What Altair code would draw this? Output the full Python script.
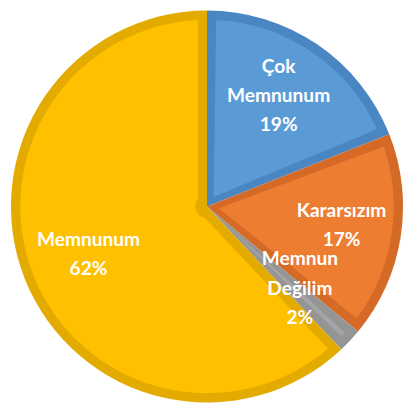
import altair as alt
import pandas as pd

categories = ["Çok Memnunum", "Kararsızım", "Memnun Değilim", "Memnunum"]
values = [19, 17, 2, 62]
label_text = ["Çok\nMemnunum\n19%", "Kararsızım\n17%", "Memnun\nDeğilim\n2%", "Memnunum\n62%"]
fill_colors = ["#5B9BD5", "#ED7D31", "#A5A5A5", "#FFC000"]
border_colors = ["#4A86C2", "#D56A27", "#959595", "#E3AA00"]

df = pd.DataFrame({
    "cat": categories,
    "value": values,
    "idx": list(range(len(categories))),
    "label": label_text,
})

W, H = 405, 398
CX, CY = 203, 198.5
R = 200
BORDER = 9.5
INNER_R = R - BORDER
PAD = 2 * 0.0493

base = alt.Chart(df).encode(
    theta=alt.Theta("value:Q", stack=True),
    order=alt.Order("idx:Q"),
    x=alt.value(CX),
    y=alt.value(CY),
)

dark = base.mark_arc(outerRadius=R, strokeWidth=0).encode(
    color=alt.Color("cat:N", scale=alt.Scale(domain=categories, range=border_colors), legend=None)
)

light = base.mark_arc(outerRadius=INNER_R, innerRadius=12, padAngle=PAD, strokeWidth=0).encode(
    color=alt.Color("cat:N", scale=alt.Scale(domain=categories, range=fill_colors), legend=None)
)

# label placement per slice (radius, vertical shift of the multi-line block)
label_style = {
    "Çok Memnunum": (130, -35),
    "Kararsızım": (139, -17),
    "Memnun Değilim": (130, -35),
    "Memnunum": (130, -14),
}

label_layers = []
for cat, (rad, dy) in label_style.items():
    label_layers.append(
        base.mark_text(
            radius=rad,
            dy=dy,
            font="Lato",
            fontWeight="bold",
            fontSize=19.5,
            color="white",
            lineBreak="\n",
            lineHeight=30,
            align="center",
            baseline="middle",
        ).encode(
            text="label:N",
            opacity=alt.condition(alt.datum.cat == cat, alt.value(1), alt.value(0)),
        )
    )

chart = alt.layer(dark, light, *label_layers).resolve_scale(color="independent").properties(
    width=W, height=H, autosize=alt.AutoSizeParams(type="none"), padding=0
).configure_view(stroke=None)

chart.save("out.html", embed_options={"renderer": "svg", "actions": False})
